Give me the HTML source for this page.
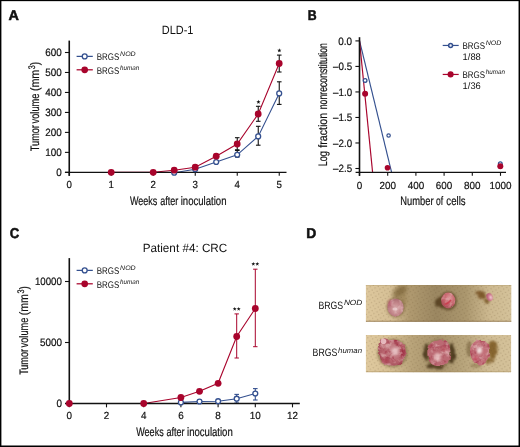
<!DOCTYPE html>
<html><head><meta charset="utf-8"><title>Figure</title>
<style>
html,body{margin:0;padding:0;background:#fff;}
body{width:520px;height:447px;overflow:hidden;position:relative;font-family:"Liberation Sans",sans-serif;}
svg{position:absolute;left:0;top:0;display:block;will-change:transform;}
svg text.c{stroke:#111;stroke-width:0.2px;}
svg text{font-family:"Liberation Sans",sans-serif;fill:#111;text-rendering:geometricPrecision;}
#frame{position:absolute;left:0;top:0;width:517.5px;height:444.5px;border-style:solid;border-color:#000;border-width:1.2px 2px 2px 1.2px;box-sizing:content-box;}
</style></head><body>
<svg width="520" height="447" viewBox="0 0 520 447">
<text x="8.6" y="20.4" font-size="14.2" textLength="10.4" lengthAdjust="spacingAndGlyphs" font-weight="bold" stroke="#111" stroke-width="0.55" stroke-linejoin="round">A</text>
<text x="307.8" y="20.4" font-size="14.2" textLength="8.9" lengthAdjust="spacingAndGlyphs" font-weight="bold" stroke="#111" stroke-width="0.55" stroke-linejoin="round">B</text>
<text x="9.8" y="237.9" font-size="14.2" textLength="9.5" lengthAdjust="spacingAndGlyphs" font-weight="bold" stroke="#111" stroke-width="0.55" stroke-linejoin="round">C</text>
<text x="306.2" y="237.9" font-size="14.2" textLength="10.0" lengthAdjust="spacingAndGlyphs" font-weight="bold" stroke="#111" stroke-width="0.55" stroke-linejoin="round">D</text>
<text x="177.6" y="34.0" font-size="12" text-anchor="middle" textLength="31.6" lengthAdjust="spacingAndGlyphs">DLD-1</text>
<line x1="279.25" y1="81.8" x2="279.25" y2="104.4" stroke="#111" stroke-width="1.1" stroke-linecap="butt"/>
<line x1="276.95" y1="81.8" x2="281.55" y2="81.8" stroke="#111" stroke-width="1.1" stroke-linecap="butt"/>
<line x1="276.95" y1="104.4" x2="281.55" y2="104.4" stroke="#111" stroke-width="1.1" stroke-linecap="butt"/>
<line x1="258.25" y1="126.3" x2="258.25" y2="145.2" stroke="#111" stroke-width="1.1" stroke-linecap="butt"/>
<line x1="255.95" y1="126.3" x2="260.55" y2="126.3" stroke="#111" stroke-width="1.1" stroke-linecap="butt"/>
<line x1="255.95" y1="145.2" x2="260.55" y2="145.2" stroke="#111" stroke-width="1.1" stroke-linecap="butt"/>
<line x1="237.25" y1="150.5" x2="237.25" y2="157" stroke="#111" stroke-width="1.1" stroke-linecap="butt"/>
<line x1="234.95" y1="150.5" x2="239.55" y2="150.5" stroke="#111" stroke-width="1.1" stroke-linecap="butt"/>
<line x1="234.95" y1="157" x2="239.55" y2="157" stroke="#111" stroke-width="1.1" stroke-linecap="butt"/>
<line x1="279.25" y1="55.1" x2="279.25" y2="72.0" stroke="#111" stroke-width="1.1" stroke-linecap="butt"/>
<line x1="276.95" y1="55.1" x2="281.55" y2="55.1" stroke="#111" stroke-width="1.1" stroke-linecap="butt"/>
<line x1="276.95" y1="72.0" x2="281.55" y2="72.0" stroke="#111" stroke-width="1.1" stroke-linecap="butt"/>
<line x1="258.25" y1="106.3" x2="258.25" y2="121.3" stroke="#111" stroke-width="1.1" stroke-linecap="butt"/>
<line x1="255.95" y1="106.3" x2="260.55" y2="106.3" stroke="#111" stroke-width="1.1" stroke-linecap="butt"/>
<line x1="255.95" y1="121.3" x2="260.55" y2="121.3" stroke="#111" stroke-width="1.1" stroke-linecap="butt"/>
<line x1="237.25" y1="137.7" x2="237.25" y2="149.8" stroke="#111" stroke-width="1.1" stroke-linecap="butt"/>
<line x1="234.95" y1="137.7" x2="239.55" y2="137.7" stroke="#111" stroke-width="1.1" stroke-linecap="butt"/>
<line x1="234.95" y1="149.8" x2="239.55" y2="149.8" stroke="#111" stroke-width="1.1" stroke-linecap="butt"/>
<polyline points="174.2,172.7 195.2,169.2 216.2,162.0 237.2,154.8 258.2,136.4 279.2,93.4" fill="none" stroke="#34508f" stroke-width="1.1"/>
<polyline points="111.2,172.3 153.2,172.3 174.2,170.2 195.2,167.2 216.2,156.2 237.2,144.0 258.2,114.0 279.2,63.5" fill="none" stroke="#a8042c" stroke-width="1.1"/>
<line x1="69.25" y1="40.6" x2="69.25" y2="175.85" stroke="#111" stroke-width="1.6" stroke-linecap="butt"/>
<line x1="64.95" y1="172.35" x2="286.5" y2="172.35" stroke="#111" stroke-width="1.3" stroke-linecap="butt"/>
<line x1="64.95" y1="172.35" x2="69.25" y2="172.35" stroke="#111" stroke-width="1.1" stroke-linecap="butt"/>
<text x="61.85" y="176.1" font-size="10.6" text-anchor="end" textLength="5.5" lengthAdjust="spacingAndGlyphs" class="c">0</text>
<line x1="64.95" y1="152.375" x2="69.25" y2="152.375" stroke="#111" stroke-width="1.1" stroke-linecap="butt"/>
<text x="61.85" y="156.125" font-size="10.6" text-anchor="end" textLength="16.5" lengthAdjust="spacingAndGlyphs" class="c">100</text>
<line x1="64.95" y1="132.39999999999998" x2="69.25" y2="132.39999999999998" stroke="#111" stroke-width="1.1" stroke-linecap="butt"/>
<text x="61.85" y="136.14999999999998" font-size="10.6" text-anchor="end" textLength="16.5" lengthAdjust="spacingAndGlyphs" class="c">200</text>
<line x1="64.95" y1="112.42499999999998" x2="69.25" y2="112.42499999999998" stroke="#111" stroke-width="1.1" stroke-linecap="butt"/>
<text x="61.85" y="116.17499999999998" font-size="10.6" text-anchor="end" textLength="16.5" lengthAdjust="spacingAndGlyphs" class="c">300</text>
<line x1="64.95" y1="92.44999999999999" x2="69.25" y2="92.44999999999999" stroke="#111" stroke-width="1.1" stroke-linecap="butt"/>
<text x="61.85" y="96.19999999999999" font-size="10.6" text-anchor="end" textLength="16.5" lengthAdjust="spacingAndGlyphs" class="c">400</text>
<line x1="64.95" y1="72.475" x2="69.25" y2="72.475" stroke="#111" stroke-width="1.1" stroke-linecap="butt"/>
<text x="61.85" y="76.225" font-size="10.6" text-anchor="end" textLength="16.5" lengthAdjust="spacingAndGlyphs" class="c">500</text>
<line x1="64.95" y1="52.499999999999986" x2="69.25" y2="52.499999999999986" stroke="#111" stroke-width="1.1" stroke-linecap="butt"/>
<text x="61.85" y="56.249999999999986" font-size="10.6" text-anchor="end" textLength="16.5" lengthAdjust="spacingAndGlyphs" class="c">600</text>
<line x1="69.25" y1="172.35" x2="69.25" y2="175.85" stroke="#111" stroke-width="1.1" stroke-linecap="butt"/>
<text x="69.25" y="188.2" font-size="10.3" text-anchor="middle" textLength="5.4" lengthAdjust="spacingAndGlyphs" class="c">0</text>
<line x1="111.25" y1="172.35" x2="111.25" y2="175.85" stroke="#111" stroke-width="1.1" stroke-linecap="butt"/>
<text x="111.25" y="188.2" font-size="10.3" text-anchor="middle" textLength="5.4" lengthAdjust="spacingAndGlyphs" class="c">1</text>
<line x1="153.25" y1="172.35" x2="153.25" y2="175.85" stroke="#111" stroke-width="1.1" stroke-linecap="butt"/>
<text x="153.25" y="188.2" font-size="10.3" text-anchor="middle" textLength="5.4" lengthAdjust="spacingAndGlyphs" class="c">2</text>
<line x1="195.25" y1="172.35" x2="195.25" y2="175.85" stroke="#111" stroke-width="1.1" stroke-linecap="butt"/>
<text x="195.25" y="188.2" font-size="10.3" text-anchor="middle" textLength="5.4" lengthAdjust="spacingAndGlyphs" class="c">3</text>
<line x1="237.25" y1="172.35" x2="237.25" y2="175.85" stroke="#111" stroke-width="1.1" stroke-linecap="butt"/>
<text x="237.25" y="188.2" font-size="10.3" text-anchor="middle" textLength="5.4" lengthAdjust="spacingAndGlyphs" class="c">4</text>
<line x1="279.25" y1="172.35" x2="279.25" y2="175.85" stroke="#111" stroke-width="1.1" stroke-linecap="butt"/>
<text x="279.25" y="188.2" font-size="10.3" text-anchor="middle" textLength="5.4" lengthAdjust="spacingAndGlyphs" class="c">5</text>
<circle cx="174.2" cy="172.7" r="2.45" fill="#fff" stroke="#34508f" stroke-width="1.3"/>
<circle cx="195.2" cy="169.2" r="2.45" fill="#fff" stroke="#34508f" stroke-width="1.3"/>
<circle cx="216.2" cy="162.0" r="2.45" fill="#fff" stroke="#34508f" stroke-width="1.3"/>
<circle cx="237.2" cy="154.8" r="2.45" fill="#fff" stroke="#34508f" stroke-width="1.3"/>
<circle cx="258.2" cy="136.4" r="2.45" fill="#fff" stroke="#34508f" stroke-width="1.3"/>
<circle cx="279.2" cy="93.4" r="2.45" fill="#fff" stroke="#34508f" stroke-width="1.3"/>
<circle cx="111.2" cy="172.3" r="3.4" fill="#a8042c"/>
<circle cx="153.2" cy="172.3" r="3.4" fill="#a8042c"/>
<circle cx="174.2" cy="170.2" r="3.4" fill="#a8042c"/>
<circle cx="195.2" cy="167.2" r="3.4" fill="#a8042c"/>
<circle cx="216.2" cy="156.2" r="3.4" fill="#a8042c"/>
<circle cx="237.2" cy="144.0" r="3.4" fill="#a8042c"/>
<circle cx="258.2" cy="114.0" r="3.4" fill="#a8042c"/>
<circle cx="279.2" cy="63.5" r="3.4" fill="#a8042c"/>
<polygon points="279.35,48.30 279.89,49.75 281.44,49.82 280.23,50.79 280.64,52.28 279.35,51.42 278.06,52.28 278.47,50.79 277.26,49.82 278.81,49.75" fill="#111"/>
<polygon points="258.45,99.80 258.99,101.25 260.54,101.32 259.33,102.29 259.74,103.78 258.45,102.92 257.16,103.78 257.57,102.29 256.36,101.32 257.91,101.25" fill="#111"/>
<text x="129.95000000000002" y="204.5" font-size="12.3" textLength="27.4" lengthAdjust="spacingAndGlyphs" class="c">Weeks</text>
<text x="160.15" y="204.5" font-size="12.3" textLength="18.1" lengthAdjust="spacingAndGlyphs" class="c">after</text>
<text x="180.75" y="204.5" font-size="12.3" textLength="45.7" lengthAdjust="spacingAndGlyphs" class="c">inoculation</text>
<text x="38.7" y="151.15" font-size="12.3" textLength="26.0" lengthAdjust="spacingAndGlyphs" transform="rotate(-90 38.7 151.15)" class="c">Tumor</text>
<text x="38.7" y="123.45" font-size="12.3" textLength="30.0" lengthAdjust="spacingAndGlyphs" transform="rotate(-90 38.7 123.45)" class="c">volume</text>
<text x="38.7" y="91.05000000000001" font-size="12.3" textLength="21.3" lengthAdjust="spacingAndGlyphs" transform="rotate(-90 38.7 91.05000000000001)" class="c">(mm</text>
<text x="35.1" y="69.2" font-size="9.5" textLength="4.0" lengthAdjust="spacingAndGlyphs" transform="rotate(-90 35.1 69.2)" class="c">3</text>
<text x="38.7" y="65.2" font-size="12.3" textLength="3.4" lengthAdjust="spacingAndGlyphs" transform="rotate(-90 38.7 65.2)" class="c">)</text>
<line x1="76.6" y1="56.4" x2="92.8" y2="56.4" stroke="#34508f" stroke-width="1.25" stroke-linecap="butt"/>
<circle cx="84.7" cy="56.4" r="2.45" fill="#fff" stroke="#34508f" stroke-width="1.3"/>
<line x1="76.6" y1="69.8" x2="92.8" y2="69.8" stroke="#a8042c" stroke-width="1.25" stroke-linecap="butt"/>
<circle cx="84.7" cy="69.8" r="3.35" fill="#a8042c"/>
<text x="96.8" y="60.0" font-size="9.6" textLength="22.6" lengthAdjust="spacingAndGlyphs">BRGS</text>
<text x="120.10000000000001" y="55.8" font-size="6.6" textLength="15.6" lengthAdjust="spacingAndGlyphs" font-style="italic">NOD</text>
<text x="96.8" y="73.7" font-size="9.6" textLength="22.6" lengthAdjust="spacingAndGlyphs">BRGS</text>
<text x="120.10000000000001" y="69.5" font-size="6.6" textLength="19.2" lengthAdjust="spacingAndGlyphs" font-style="italic">human</text>
<line x1="359.5" y1="40.6" x2="391.6" y2="172.35" stroke="#34508f" stroke-width="1.15" stroke-linecap="butt"/>
<line x1="359.5" y1="40.6" x2="372.6" y2="172.35" stroke="#a8042c" stroke-width="1.15" stroke-linecap="butt"/>
<line x1="359.5" y1="37.2" x2="359.5" y2="175.85" stroke="#111" stroke-width="1.6" stroke-linecap="butt"/>
<line x1="355.6" y1="172.35" x2="506" y2="172.35" stroke="#111" stroke-width="1.3" stroke-linecap="butt"/>
<line x1="355.4" y1="40.9" x2="359.5" y2="40.9" stroke="#111" stroke-width="1.1" stroke-linecap="butt"/>
<text x="352.1" y="44.65" font-size="10.6" text-anchor="end" textLength="13.8" lengthAdjust="spacingAndGlyphs" class="c">0.0</text>
<line x1="355.4" y1="66.42" x2="359.5" y2="66.42" stroke="#111" stroke-width="1.1" stroke-linecap="butt"/>
<text x="352.1" y="70.17" font-size="10.6" text-anchor="end" textLength="19.0" lengthAdjust="spacingAndGlyphs" class="c">–0.5</text>
<line x1="355.4" y1="91.94" x2="359.5" y2="91.94" stroke="#111" stroke-width="1.1" stroke-linecap="butt"/>
<text x="352.1" y="95.69" font-size="10.6" text-anchor="end" textLength="19.0" lengthAdjust="spacingAndGlyphs" class="c">–1.0</text>
<line x1="355.4" y1="117.46000000000001" x2="359.5" y2="117.46000000000001" stroke="#111" stroke-width="1.1" stroke-linecap="butt"/>
<text x="352.1" y="121.21000000000001" font-size="10.6" text-anchor="end" textLength="19.0" lengthAdjust="spacingAndGlyphs" class="c">–1.5</text>
<line x1="355.4" y1="142.98" x2="359.5" y2="142.98" stroke="#111" stroke-width="1.1" stroke-linecap="butt"/>
<text x="352.1" y="146.73" font-size="10.6" text-anchor="end" textLength="19.0" lengthAdjust="spacingAndGlyphs" class="c">–2.0</text>
<line x1="355.4" y1="168.5" x2="359.5" y2="168.5" stroke="#111" stroke-width="1.1" stroke-linecap="butt"/>
<text x="352.1" y="172.25" font-size="10.6" text-anchor="end" textLength="19.0" lengthAdjust="spacingAndGlyphs" class="c">–2.5</text>
<line x1="359.5" y1="172.35" x2="359.5" y2="175.85" stroke="#111" stroke-width="1.1" stroke-linecap="butt"/>
<text x="359.5" y="188.6" font-size="10.3" text-anchor="middle" textLength="5.5" lengthAdjust="spacingAndGlyphs" class="c">0</text>
<line x1="387.7" y1="172.35" x2="387.7" y2="175.85" stroke="#111" stroke-width="1.1" stroke-linecap="butt"/>
<text x="387.7" y="188.6" font-size="10.3" text-anchor="middle" textLength="16.5" lengthAdjust="spacingAndGlyphs" class="c">200</text>
<line x1="415.9" y1="172.35" x2="415.9" y2="175.85" stroke="#111" stroke-width="1.1" stroke-linecap="butt"/>
<text x="415.9" y="188.6" font-size="10.3" text-anchor="middle" textLength="16.5" lengthAdjust="spacingAndGlyphs" class="c">400</text>
<line x1="444.1" y1="172.35" x2="444.1" y2="175.85" stroke="#111" stroke-width="1.1" stroke-linecap="butt"/>
<text x="444.1" y="188.6" font-size="10.3" text-anchor="middle" textLength="16.5" lengthAdjust="spacingAndGlyphs" class="c">600</text>
<line x1="472.29999999999995" y1="172.35" x2="472.29999999999995" y2="175.85" stroke="#111" stroke-width="1.1" stroke-linecap="butt"/>
<text x="472.29999999999995" y="188.6" font-size="10.3" text-anchor="middle" textLength="16.5" lengthAdjust="spacingAndGlyphs" class="c">800</text>
<line x1="500.5" y1="172.35" x2="500.5" y2="175.85" stroke="#111" stroke-width="1.1" stroke-linecap="butt"/>
<text x="500.5" y="188.6" font-size="10.3" text-anchor="middle" textLength="22" lengthAdjust="spacingAndGlyphs" class="c">1000</text>
<circle cx="365.1" cy="80.4" r="1.85" fill="#fff" stroke="#34508f" stroke-width="1.3"/>
<circle cx="388.6" cy="135.5" r="1.7" fill="#fff" stroke="#34508f" stroke-width="1.2"/>
<circle cx="500.3" cy="163.7" r="1.85" fill="#fff" stroke="#34508f" stroke-width="1.3"/>
<circle cx="365.1" cy="93.8" r="3.0" fill="#a8042c"/>
<circle cx="387.5" cy="167.7" r="2.8" fill="#a8042c"/>
<circle cx="500.3" cy="166.3" r="3.0" fill="#a8042c"/>
<text x="400.34999999999997" y="204.6" font-size="12.3" textLength="33.3" lengthAdjust="spacingAndGlyphs" class="c">Number</text>
<text x="436.04999999999995" y="204.6" font-size="12.3" textLength="7.1" lengthAdjust="spacingAndGlyphs" class="c">of</text>
<text x="446.34999999999997" y="204.6" font-size="12.3" textLength="19.3" lengthAdjust="spacingAndGlyphs" class="c">cells</text>
<text x="326.8" y="166.25" font-size="12.3" textLength="15.1" lengthAdjust="spacingAndGlyphs" transform="rotate(-90 326.8 166.25)" class="c">Log</text>
<text x="326.8" y="147.75" font-size="12.3" textLength="34.9" lengthAdjust="spacingAndGlyphs" transform="rotate(-90 326.8 147.75)" class="c">fraction</text>
<text x="326.8" y="109.25" font-size="12.3" textLength="66.2" lengthAdjust="spacingAndGlyphs" transform="rotate(-90 326.8 109.25)" class="c">nonreconstitution</text>
<line x1="442.7" y1="45.45" x2="458.7" y2="45.45" stroke="#34508f" stroke-width="1.2" stroke-linecap="butt"/>
<circle cx="450.6" cy="45.5" r="1.95" fill="#eef1f8" stroke="#34508f" stroke-width="1.5"/>
<line x1="442.7" y1="74.45" x2="458.7" y2="74.45" stroke="#a8042c" stroke-width="1.2" stroke-linecap="butt"/>
<circle cx="450.6" cy="74.4" r="3.05" fill="#a8042c"/>
<text x="462.5" y="49.0" font-size="9.6" textLength="22.6" lengthAdjust="spacingAndGlyphs">BRGS</text>
<text x="485.8" y="44.8" font-size="6.6" textLength="15.6" lengthAdjust="spacingAndGlyphs" font-style="italic">NOD</text>
<text x="462.6" y="60.0" font-size="9.6" textLength="18.2" lengthAdjust="spacingAndGlyphs">1/88</text>
<text x="462.5" y="78.0" font-size="9.6" textLength="22.6" lengthAdjust="spacingAndGlyphs">BRGS</text>
<text x="485.8" y="73.8" font-size="6.6" textLength="19.2" lengthAdjust="spacingAndGlyphs" font-style="italic">human</text>
<text x="462.6" y="88.8" font-size="9.6" textLength="18.2" lengthAdjust="spacingAndGlyphs">1/36</text>
<text x="185" y="251.5" font-size="12" text-anchor="middle" textLength="84.6" lengthAdjust="spacingAndGlyphs">Patient #4: CRC</text>
<line x1="236.7" y1="313.9" x2="236.7" y2="358" stroke="#a8042c" stroke-width="1.0" stroke-linecap="butt"/>
<line x1="234.5" y1="313.9" x2="238.89999999999998" y2="313.9" stroke="#a8042c" stroke-width="1.0" stroke-linecap="butt"/>
<line x1="234.5" y1="358" x2="238.89999999999998" y2="358" stroke="#a8042c" stroke-width="1.0" stroke-linecap="butt"/>
<line x1="255.3" y1="269.2" x2="255.3" y2="346.7" stroke="#a8042c" stroke-width="1.0" stroke-linecap="butt"/>
<line x1="253.10000000000002" y1="269.2" x2="257.5" y2="269.2" stroke="#a8042c" stroke-width="1.0" stroke-linecap="butt"/>
<line x1="253.10000000000002" y1="346.7" x2="257.5" y2="346.7" stroke="#a8042c" stroke-width="1.0" stroke-linecap="butt"/>
<line x1="236.7" y1="394.4" x2="236.7" y2="403" stroke="#34508f" stroke-width="1.1" stroke-linecap="butt"/>
<line x1="234.39999999999998" y1="394.4" x2="239.0" y2="394.4" stroke="#34508f" stroke-width="1.1" stroke-linecap="butt"/>
<line x1="234.39999999999998" y1="403" x2="239.0" y2="403" stroke="#34508f" stroke-width="1.1" stroke-linecap="butt"/>
<line x1="255.3" y1="388.6" x2="255.3" y2="400" stroke="#34508f" stroke-width="1.1" stroke-linecap="butt"/>
<line x1="253.0" y1="388.6" x2="257.6" y2="388.6" stroke="#34508f" stroke-width="1.1" stroke-linecap="butt"/>
<line x1="253.0" y1="400" x2="257.6" y2="400" stroke="#34508f" stroke-width="1.1" stroke-linecap="butt"/>
<polyline points="180.9,402.4 199.5,401.5 218.1,401.2 236.7,398.7 255.3,393.5" fill="none" stroke="#34508f" stroke-width="1.1"/>
<polyline points="69.3,403.5 143.7,403.5 180.9,397.5 199.5,391.3 218.1,383.3 236.7,336.5 255.3,308.5" fill="none" stroke="#a8042c" stroke-width="1.1"/>
<line x1="69.3" y1="258.1" x2="69.3" y2="407.0" stroke="#111" stroke-width="1.6" stroke-linecap="butt"/>
<line x1="65.0" y1="403.5" x2="299.8" y2="403.5" stroke="#111" stroke-width="1.3" stroke-linecap="butt"/>
<line x1="65.0" y1="403.5" x2="69.3" y2="403.5" stroke="#111" stroke-width="1.1" stroke-linecap="butt"/>
<text x="61.9" y="407.25" font-size="10.6" text-anchor="end" textLength="5.5" lengthAdjust="spacingAndGlyphs" class="c">0</text>
<line x1="65.0" y1="342.5" x2="69.3" y2="342.5" stroke="#111" stroke-width="1.1" stroke-linecap="butt"/>
<text x="61.9" y="346.25" font-size="10.6" text-anchor="end" textLength="22" lengthAdjust="spacingAndGlyphs" class="c">5000</text>
<line x1="65.0" y1="281.5" x2="69.3" y2="281.5" stroke="#111" stroke-width="1.1" stroke-linecap="butt"/>
<text x="61.9" y="285.25" font-size="10.6" text-anchor="end" textLength="27.0" lengthAdjust="spacingAndGlyphs" class="c">10000</text>
<line x1="69.3" y1="403.5" x2="69.3" y2="407.35" stroke="#111" stroke-width="1.1" stroke-linecap="butt"/>
<text x="69.3" y="419.4" font-size="10.3" text-anchor="middle" textLength="5.5" lengthAdjust="spacingAndGlyphs" class="c">0</text>
<line x1="106.5" y1="403.5" x2="106.5" y2="407.35" stroke="#111" stroke-width="1.1" stroke-linecap="butt"/>
<text x="106.5" y="419.4" font-size="10.3" text-anchor="middle" textLength="5.5" lengthAdjust="spacingAndGlyphs" class="c">2</text>
<line x1="143.7" y1="403.5" x2="143.7" y2="407.35" stroke="#111" stroke-width="1.1" stroke-linecap="butt"/>
<text x="143.7" y="419.4" font-size="10.3" text-anchor="middle" textLength="5.5" lengthAdjust="spacingAndGlyphs" class="c">4</text>
<line x1="180.9" y1="403.5" x2="180.9" y2="407.35" stroke="#111" stroke-width="1.1" stroke-linecap="butt"/>
<text x="180.9" y="419.4" font-size="10.3" text-anchor="middle" textLength="5.5" lengthAdjust="spacingAndGlyphs" class="c">6</text>
<line x1="218.10000000000002" y1="403.5" x2="218.10000000000002" y2="407.35" stroke="#111" stroke-width="1.1" stroke-linecap="butt"/>
<text x="218.10000000000002" y="419.4" font-size="10.3" text-anchor="middle" textLength="5.5" lengthAdjust="spacingAndGlyphs" class="c">8</text>
<line x1="255.3" y1="403.5" x2="255.3" y2="407.35" stroke="#111" stroke-width="1.1" stroke-linecap="butt"/>
<text x="255.3" y="419.4" font-size="10.3" text-anchor="middle" textLength="11" lengthAdjust="spacingAndGlyphs" class="c">10</text>
<line x1="292.5" y1="403.5" x2="292.5" y2="407.35" stroke="#111" stroke-width="1.1" stroke-linecap="butt"/>
<text x="292.5" y="419.4" font-size="10.3" text-anchor="middle" textLength="11" lengthAdjust="spacingAndGlyphs" class="c">12</text>
<circle cx="180.9" cy="402.4" r="2.45" fill="#fff" stroke="#34508f" stroke-width="1.3"/>
<circle cx="199.5" cy="401.5" r="2.45" fill="#fff" stroke="#34508f" stroke-width="1.3"/>
<circle cx="218.1" cy="401.2" r="2.45" fill="#fff" stroke="#34508f" stroke-width="1.3"/>
<circle cx="236.7" cy="398.7" r="2.45" fill="#fff" stroke="#34508f" stroke-width="1.3"/>
<circle cx="255.3" cy="393.5" r="2.45" fill="#fff" stroke="#34508f" stroke-width="1.3"/>
<circle cx="69.3" cy="403.5" r="3.4" fill="#a8042c"/>
<circle cx="143.7" cy="403.5" r="3.4" fill="#a8042c"/>
<circle cx="180.9" cy="397.5" r="3.4" fill="#a8042c"/>
<circle cx="199.5" cy="391.3" r="3.4" fill="#a8042c"/>
<circle cx="218.1" cy="383.3" r="3.4" fill="#a8042c"/>
<circle cx="236.7" cy="336.5" r="3.4" fill="#a8042c"/>
<circle cx="255.3" cy="308.5" r="3.4" fill="#a8042c"/>
<polygon points="234.70,306.95 235.21,308.30 236.65,308.37 235.52,309.27 235.90,310.66 234.70,309.86 233.50,310.66 233.88,309.27 232.75,308.37 234.19,308.30" fill="#111"/>
<polygon points="238.70,306.95 239.21,308.30 240.65,308.37 239.52,309.27 239.90,310.66 238.70,309.86 237.50,310.66 237.88,309.27 236.75,308.37 238.19,308.30" fill="#111"/>
<polygon points="253.30,261.95 253.81,263.30 255.25,263.37 254.12,264.27 254.50,265.66 253.30,264.86 252.10,265.66 252.48,264.27 251.35,263.37 252.79,263.30" fill="#111"/>
<polygon points="257.30,261.95 257.81,263.30 259.25,263.37 258.12,264.27 258.50,265.66 257.30,264.86 256.10,265.66 256.48,264.27 255.35,263.37 256.79,263.30" fill="#111"/>
<text x="136.25000000000003" y="436" font-size="12.3" textLength="27.4" lengthAdjust="spacingAndGlyphs" class="c">Weeks</text>
<text x="166.45000000000002" y="436" font-size="12.3" textLength="18.1" lengthAdjust="spacingAndGlyphs" class="c">after</text>
<text x="187.05" y="436" font-size="12.3" textLength="45.7" lengthAdjust="spacingAndGlyphs" class="c">inoculation</text>
<text x="27.9" y="374.85" font-size="12.3" textLength="25.78" lengthAdjust="spacingAndGlyphs" transform="rotate(-90 27.9 374.85)" class="c">Tumor</text>
<text x="27.9" y="347.39027261462206" font-size="12.3" textLength="29.75" lengthAdjust="spacingAndGlyphs" transform="rotate(-90 27.9 347.39027261462206)" class="c">volume</text>
<text x="27.9" y="315.2713135068154" font-size="12.3" textLength="21.12" lengthAdjust="spacingAndGlyphs" transform="rotate(-90 27.9 315.2713135068154)" class="c">(mm</text>
<text x="24.299999999999997" y="293.59999999999997" font-size="9.5" textLength="4.0" lengthAdjust="spacingAndGlyphs" transform="rotate(-90 24.299999999999997 293.59999999999997)" class="c">3</text>
<text x="27.9" y="289.59999999999997" font-size="12.3" textLength="3.4" lengthAdjust="spacingAndGlyphs" transform="rotate(-90 27.9 289.59999999999997)" class="c">)</text>
<line x1="76.6" y1="270.4" x2="92.8" y2="270.4" stroke="#34508f" stroke-width="1.25" stroke-linecap="butt"/>
<circle cx="84.7" cy="270.4" r="2.45" fill="#fff" stroke="#34508f" stroke-width="1.3"/>
<line x1="76.6" y1="283.8" x2="92.8" y2="283.8" stroke="#a8042c" stroke-width="1.25" stroke-linecap="butt"/>
<circle cx="84.7" cy="283.8" r="3.35" fill="#a8042c"/>
<text x="96.8" y="274.0" font-size="9.6" textLength="22.6" lengthAdjust="spacingAndGlyphs">BRGS</text>
<text x="120.10000000000001" y="269.8" font-size="6.6" textLength="15.6" lengthAdjust="spacingAndGlyphs" font-style="italic">NOD</text>
<text x="96.8" y="287.7" font-size="9.6" textLength="22.6" lengthAdjust="spacingAndGlyphs">BRGS</text>
<text x="120.10000000000001" y="283.5" font-size="6.6" textLength="19.2" lengthAdjust="spacingAndGlyphs" font-style="italic">human</text>
<text x="318.4" y="309.4" font-size="10.7" textLength="24.8" lengthAdjust="spacingAndGlyphs">BRGS</text>
<text x="343.9" y="305.2" font-size="7.5" textLength="18.4" lengthAdjust="spacingAndGlyphs" font-style="italic">NOD</text>
<text x="312.6" y="356.2" font-size="10.7" textLength="24.8" lengthAdjust="spacingAndGlyphs">BRGS</text>
<text x="338.1" y="352.59999999999997" font-size="7.5" textLength="24.0" lengthAdjust="spacingAndGlyphs" font-style="italic">human</text>
<defs>
<filter id="b05" x="-20%" y="-20%" width="140%" height="140%" color-interpolation-filters="sRGB"><feGaussianBlur stdDeviation="0.5"/></filter>
<filter id="b1" x="-30%" y="-30%" width="160%" height="160%" color-interpolation-filters="sRGB"><feGaussianBlur stdDeviation="1"/></filter>
<filter id="b2" x="-50%" y="-50%" width="200%" height="200%" color-interpolation-filters="sRGB"><feGaussianBlur stdDeviation="2"/></filter>
<filter id="b6" x="-60%" y="-60%" width="220%" height="220%" color-interpolation-filters="sRGB"><feGaussianBlur stdDeviation="6"/></filter>
<!-- irregular stain -->
<filter id="stain" x="-40%" y="-40%" width="180%" height="180%" color-interpolation-filters="sRGB">
<feTurbulence type="fractalNoise" baseFrequency="0.22" numOctaves="2" seed="7" result="n"/>
<feDisplacementMap in="SourceGraphic" in2="n" scale="5" xChannelSelector="R" yChannelSelector="G"/>
<feGaussianBlur stdDeviation="0.95"/>
</filter>
<!-- mottled tissue -->
<filter id="tum" x="-25%" y="-25%" width="150%" height="150%" color-interpolation-filters="sRGB">
<feTurbulence type="fractalNoise" baseFrequency="0.16" numOctaves="3" seed="11" result="n"/>
<feDisplacementMap in="SourceGraphic" in2="n" scale="3.2" xChannelSelector="R" yChannelSelector="G" result="d"/>
<feColorMatrix in="n" type="matrix" values="0 0 0 0 0.89  0 0 0 0 0.73  0 0 0 0 0.73  2.2 0 0 0 -1.05" result="w"/>
<feComposite in="w" in2="d" operator="in" result="wp"/>
<feColorMatrix in="n" type="matrix" values="0 0 0 0 0.62  0 0 0 0 0.18  0 0 0 0 0.26  0 0 2.8 0 -1.35" result="r"/>
<feComposite in="r" in2="d" operator="in" result="rp"/>
<feMerge><feMergeNode in="d"/><feMergeNode in="rp"/><feMergeNode in="wp"/></feMerge>
<feGaussianBlur stdDeviation="0.55"/>
</filter>
<filter id="tumS" x="-25%" y="-25%" width="150%" height="150%" color-interpolation-filters="sRGB">
<feTurbulence type="fractalNoise" baseFrequency="0.2" numOctaves="2" seed="5" result="n"/>
<feDisplacementMap in="SourceGraphic" in2="n" scale="1.6" xChannelSelector="R" yChannelSelector="G" result="d"/>
<feColorMatrix in="n" type="matrix" values="0 0 0 0 0.92  0 0 0 0 0.78  0 0 0 0 0.78  2.0 0 0 0 -0.95" result="w"/>
<feComposite in="w" in2="d" operator="in" result="wp"/>
<feMerge><feMergeNode in="d"/><feMergeNode in="wp"/></feMerge>
<feGaussianBlur stdDeviation="0.5"/>
</filter>
<linearGradient id="bgT" x1="0" x2="1" y1="0" y2="0">
<stop offset="0" stop-color="#dec89d"/><stop offset="0.18" stop-color="#d5bf95"/><stop offset="0.30" stop-color="#b09a70"/><stop offset="0.48" stop-color="#9b8761"/><stop offset="0.68" stop-color="#ab976e"/><stop offset="0.84" stop-color="#cdb990"/><stop offset="1" stop-color="#d5c39b"/></linearGradient>
<linearGradient id="bgB" x1="0" x2="1" y1="0" y2="0">
<stop offset="0" stop-color="#e0ca9f"/><stop offset="0.16" stop-color="#d7c196"/><stop offset="0.32" stop-color="#b8a379"/><stop offset="0.5" stop-color="#a8946c"/><stop offset="0.68" stop-color="#b9a67d"/><stop offset="0.84" stop-color="#d0bd95"/><stop offset="1" stop-color="#d5c29a"/></linearGradient>
<pattern id="dots" width="5" height="5" patternUnits="userSpaceOnUse" patternTransform="rotate(14)">
<circle cx="1.2" cy="1.2" r="0.55" fill="#5e4824" fill-opacity="0.38"/><circle cx="3.7" cy="3.7" r="0.55" fill="#5e4824" fill-opacity="0.38"/>
</pattern>
<clipPath id="cT"><rect x="365.9" y="284.9" width="145.4" height="36.8"/></clipPath>
<clipPath id="cB"><rect x="365.9" y="334.9" width="145.2" height="37.4"/></clipPath>
<radialGradient id="t1" cx="0.52" cy="0.58" r="0.62"><stop offset="0" stop-color="#d8adad"/><stop offset="0.5" stop-color="#c4888c"/><stop offset="1" stop-color="#a5666c"/></radialGradient>
<radialGradient id="t2" cx="0.6" cy="0.35" r="0.7"><stop offset="0" stop-color="#dd9a9c"/><stop offset="0.5" stop-color="#c9676f"/><stop offset="1" stop-color="#a64a54"/></radialGradient>
<radialGradient id="t3" cx="0.65" cy="0.6" r="0.6"><stop offset="0" stop-color="#f2d2d8"/><stop offset="0.6" stop-color="#d27c92"/><stop offset="1" stop-color="#b45a72"/></radialGradient>
<radialGradient id="u1" cx="0.55" cy="0.45" r="0.7"><stop offset="0" stop-color="#cd9397"/><stop offset="0.55" stop-color="#b9666f"/><stop offset="1" stop-color="#9b4551"/></radialGradient>
</defs>
<!-- top strip -->
<g clip-path="url(#cT)">
<rect x="365" y="284" width="148" height="39" fill="url(#bgT)"/>
<ellipse cx="400" cy="291.5" rx="8.5" ry="5" fill="#7a6236" opacity="0.8" filter="url(#b2)" transform="rotate(-40 400 291.5)"/>
<ellipse cx="404" cy="300" rx="3" ry="6" fill="#8a7040" opacity="0.55" filter="url(#b2)"/>
<ellipse cx="440.3" cy="302.5" rx="5.4" ry="5" fill="#5c4626" opacity="1" filter="url(#stain)"/>
<ellipse cx="448.2" cy="301" rx="8.8" ry="9.4" fill="#5f4828" opacity="0.75" filter="url(#b1)"/>
<ellipse cx="395.8" cy="307.3" rx="9.4" ry="10.2" fill="#7a5f3a" opacity="0.55" filter="url(#b1)"/>
<ellipse cx="481.3" cy="294.8" rx="5.6" ry="3.7" fill="#7e5a2c" opacity="1" filter="url(#stain)" transform="rotate(25 481.3 294.8)"/>
<ellipse cx="486.8" cy="301.2" rx="3.4" ry="2.4" fill="#81602f" opacity="0.95" filter="url(#stain)"/>
<rect x="365" y="284" width="148" height="39" fill="url(#dots)"/>
<ellipse cx="395.5" cy="307.4" rx="8.1" ry="9.0" fill="url(#t1)" filter="url(#tumS)"/>
<ellipse cx="448.2" cy="300.5" rx="7.1" ry="7.9" fill="url(#t2)" filter="url(#tumS)"/>
<ellipse cx="489.6" cy="297.1" rx="3.1" ry="4.1" fill="url(#t3)" transform="rotate(-25 489.6 297.1)" filter="url(#b05)"/>
<ellipse cx="390" cy="303" rx="2" ry="3.5" fill="#b95a6c" opacity="0.6" filter="url(#b1)"/>
<ellipse cx="395" cy="309" rx="2.6" ry="1.6" fill="#f3dcdd" opacity="0.6" filter="url(#b05)"/>
<path d="M444.5 304.5 q4 -1 6.5 -4.5" stroke="#c9384a" stroke-width="1.5" fill="none" opacity="0.8" filter="url(#b05)"/>
<rect x="365" y="320.8" width="148" height="1.0" fill="#7d6038" opacity="0.75"/>
<rect x="365" y="284.7" width="148" height="0.8" fill="#9a8150" opacity="0.45"/>
</g>
<!-- bottom strip -->
<g clip-path="url(#cB)">
<rect x="365" y="334" width="148" height="40" fill="url(#bgB)"/>
<ellipse cx="392.5" cy="353" rx="15.5" ry="14.5" fill="#7c6740" opacity="0.55" filter="url(#b1)"/>
<ellipse cx="426.6" cy="353" rx="3.8" ry="8.5" fill="#4e3c20" opacity="1" filter="url(#stain)"/>
<ellipse cx="451.6" cy="354" rx="3.6" ry="10" fill="#4e3c20" opacity="1" filter="url(#stain)"/>
<ellipse cx="436" cy="365.8" rx="9.5" ry="3.4" fill="#523f22" opacity="1" filter="url(#stain)"/>
<ellipse cx="438.8" cy="353.5" rx="13" ry="14" fill="#6e5936" opacity="0.5" filter="url(#b1)"/>
<ellipse cx="469.3" cy="349" rx="3" ry="8" fill="#7a6540" opacity="0.65" filter="url(#b1)"/>
<ellipse cx="492.6" cy="349.8" rx="5" ry="9.4" fill="#86652f" opacity="1" filter="url(#stain)"/>
<ellipse cx="488.8" cy="360.5" rx="4.5" ry="3" fill="#8a6a36" opacity="0.95" filter="url(#stain)"/>
<ellipse cx="476" cy="365.5" rx="6" ry="2.2" fill="#8a7048" opacity="0.55" filter="url(#b1)"/>
<rect x="365" y="334" width="148" height="40" fill="url(#dots)"/>
<path filter="url(#tum)" d="M378 350 C377.5 343 381 338.5 384 338.2 C386.5 338 388 339.5 389 341 C394 338.5 401 340 404 345 C407 350 406.5 358 402.5 362 C398 366.5 391 366.5 386 364 C381 361.5 378.3 356 378 350Z" fill="url(#u1)"/>
<path filter="url(#tum)" d="M427.3 352 C427 345 432 341 437 340.5 C441 338.5 446.5 339.5 448.5 343.5 C451 348 451 356 449 360 C447 365 443 367 439.5 366 C434 366.5 430 363.5 428.5 359.5 C427.6 357 427.3 354.5 427.3 352Z" fill="#bb6a73"/>
<path filter="url(#tum)" d="M470 351 C470 344 475 340 480.5 340 C486 340 490.2 345 490 351 C489.8 357 486.5 361.5 482.5 364.5 C479.5 366.5 476 365.5 473.8 362 C471.5 358.5 470 355 470 351Z" fill="#c27079"/>
<ellipse cx="383.4" cy="341.2" rx="2.8" ry="2.8" fill="#ecc2c6" opacity="0.9" filter="url(#b05)"/>
<ellipse cx="395" cy="351.5" rx="3.2" ry="3.6" fill="#ebc8ca" opacity="0.8" filter="url(#b1)"/>
<ellipse cx="385" cy="360.5" rx="4.2" ry="2.6" fill="#a93a4c" opacity="0.65" filter="url(#b1)"/>
<ellipse cx="437.5" cy="357" rx="3.4" ry="4" fill="#edc8c8" opacity="0.8" filter="url(#b1)"/>
<ellipse cx="444.5" cy="349" rx="3" ry="2.4" fill="#b23c4c" opacity="0.55" filter="url(#b1)"/>
<ellipse cx="479.3" cy="350.3" rx="2.8" ry="3.4" fill="#f4e4e2" opacity="0.9" filter="url(#b1)"/>
<ellipse cx="475.5" cy="358.5" rx="2.6" ry="2" fill="#bd2d45" opacity="0.65" filter="url(#b1)"/>
<rect x="365" y="371.4" width="148" height="1" fill="#a58a58" opacity="0.6"/>
</g>

<rect x="0" y="0" width="520" height="1.15" fill="#000"/><rect x="0" y="0" width="1.4" height="447" fill="#000"/>
<rect x="518.55" y="0" width="1.45" height="447" fill="#000"/><rect x="0" y="445.5" width="520" height="1.5" fill="#000"/>
</svg>

</body></html>
